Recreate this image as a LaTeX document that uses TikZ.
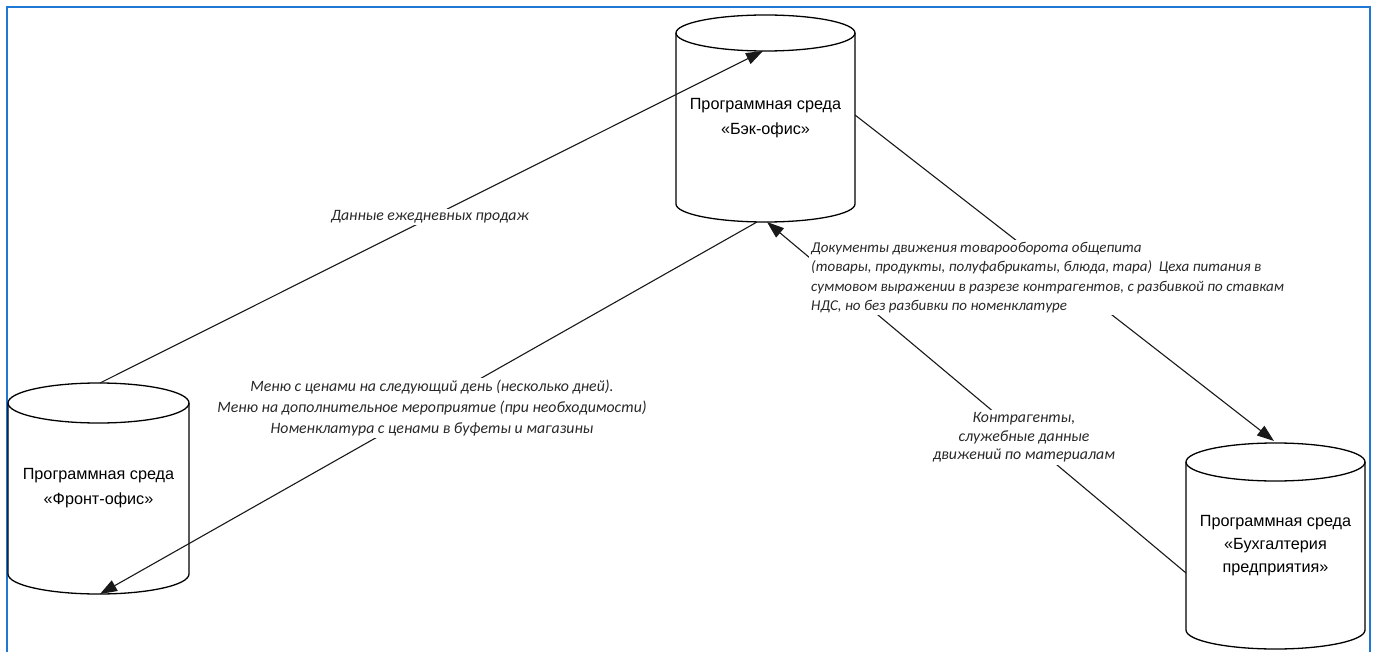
\documentclass[tikz,border=0pt]{standalone}
\usepackage{fontspec}
\setmainfont{Liberation Sans}
\newfontfamily\lblfont{Carlito}
\usetikzlibrary{arrows.meta}
\definecolor{frameblue}{RGB}{30,120,212}
\definecolor{ink}{RGB}{25,25,25}
\definecolor{lbltext}{RGB}{40,40,40}
\newcommand\drawcyl[5]{%
  \draw[cylline] (#1,#3+#5) ellipse[x radius=#2pt, y radius=#5pt];
  \draw[cylline] (#1-#2,#3+#5) -- (#1-#2,#4-#5)
    .. controls (#1-#2,#4-#5+0.5523*#5) and (#1-0.5523*#2,#4) .. (#1,#4)
    .. controls (#1+0.5523*#2,#4) and (#1+#2,#4-#5+0.5523*#5) .. (#1+#2,#4-#5)
    -- (#1+#2,#3+#5);
}
\begin{document}
\begin{tikzpicture}[x=1pt,y=-1pt,
  cylline/.style={draw=black, line width=1.3pt},
  cylbox/.style={inner sep=0pt, draw=none, align=center, text=black,
    font=\fontsize{16.2}{24.5}\selectfont},
  conn/.style={draw=ink, line width=1.1pt},
  arr/.style={conn, -{Triangle[length=17pt,width=12pt]}},
  lbl/.style={font=\lblfont\itshape\fontsize{15.8}{21}\selectfont, fill=white,
    inner sep=2pt, text=lbltext}
]
\useasboundingbox (0,0) rectangle (1378,652);
\fill[white] (0,0) rectangle (1378,652);
% frame
\draw[frameblue, line width=2.5pt] (7,652) -- (7,7) -- (1370,7) -- (1370,652);

% cylinders
\drawcyl{765.5}{89.5}{15}{222}{18}
\drawcyl{98.5}{90.5}{383}{594}{20}
\drawcyl{1275.5}{89.5}{443}{649}{19}

\node[cylbox, minimum width=179pt, minimum height=207pt] (back) at (765.5,118) {Программная среда\\«Бэк-офис»};
\node[cylbox, minimum width=181pt, minimum height=211pt] (front) at (98.5,488) {Программная среда\\«Фронт-офис»};
\node[cylbox, minimum width=179pt, minimum height=206pt,
  font=\fontsize{16.2}{23}\selectfont] (acc) at (1275.5,546) {Программная среда\\«Бухгалтерия\\предприятия»};

% ports
\coordinate (backTop) at (763,51);
\coordinate (backBotL) at (757,222);
\coordinate (backBotR) at (767,222);
\coordinate (backRight) at (855,115);
\coordinate (frontTop) at (100,383);
\coordinate (frontBot) at (100,594);
\coordinate (accTop) at (1274,441);
\coordinate (accLeft) at (1186,573);

% connectors
\draw[arr] (frontTop) -- (backTop);
\draw[arr] (backBotL) -- (frontBot);
\draw[arr] (accLeft) -- (backBotR);
\draw[arr] (backRight) -- (accTop);

% labels
\node[lbl] (l1) at (430,217) {Данные ежедневных продаж};
\node[lbl, align=center] (l2) at (432,408) {Меню с ценами на следующий день (несколько дней).\\Меню на дополнительное мероприятие (при необходимости)\\Номенклатура с ценами в буфеты и магазины};
\node[lbl, align=left, anchor=west, font=\lblfont\itshape\fontsize{15}{19.4}\selectfont] (l3) at (809,277.5) {Документы движения товарооборота общепита\\(товары, продукты, полуфабрикаты, блюда, тара)\ \ Цеха питания в\\суммовом выражении в разрезе контрагентов, с разбивкой по ставкам\\НДС, но без разбивки по номенклатуре};
\node[lbl, align=center, font=\lblfont\itshape\fontsize{15.8}{18.7}\selectfont] (l4) at (1024,437.5) {Контрагенты,\\служебные данные\\движений по материалам};
\end{tikzpicture}
\end{document}
